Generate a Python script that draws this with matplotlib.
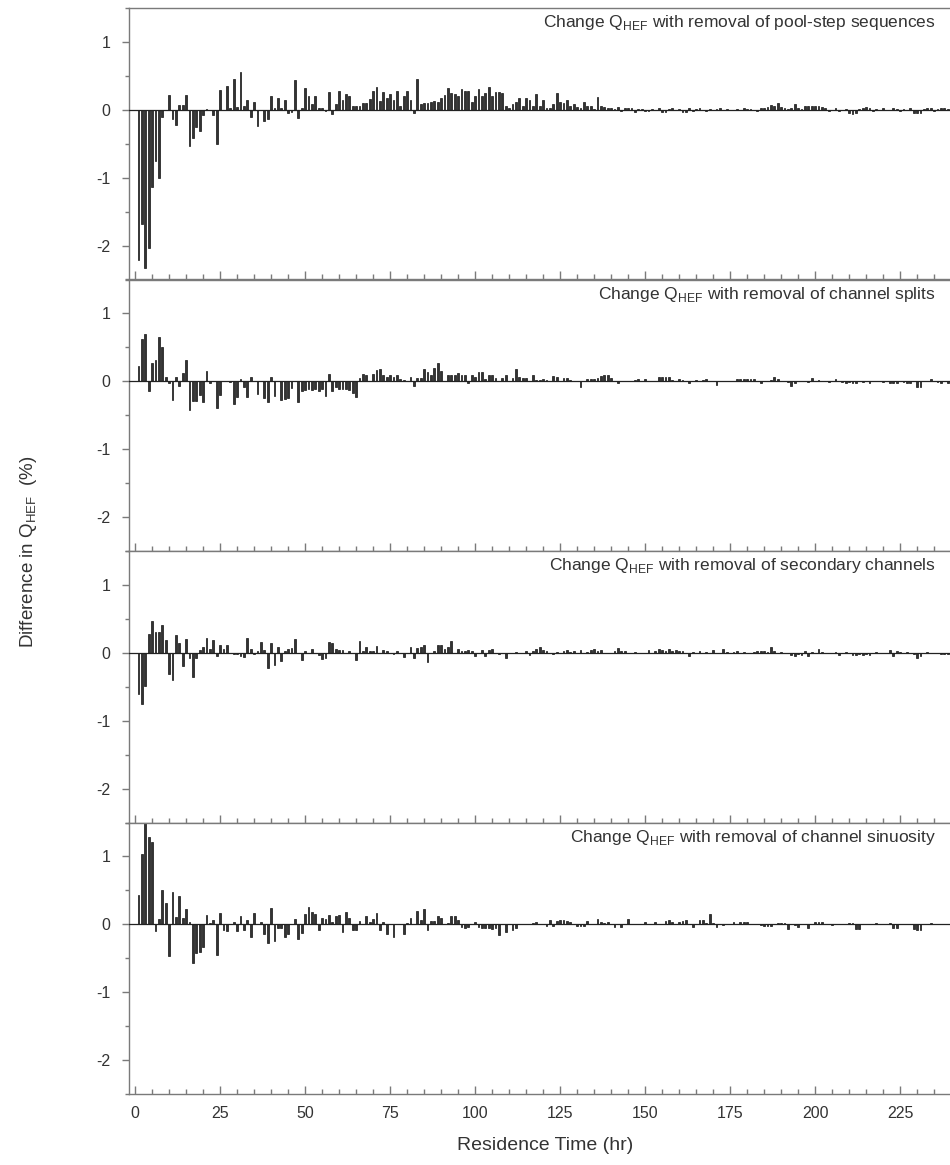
import matplotlib
matplotlib.use("Agg")
import matplotlib.pyplot as plt
from matplotlib.ticker import MultipleLocator

plt.rcParams["font.family"] = ["Liberation Sans", "DejaVu Sans"]
plt.rcParams["mathtext.fontset"] = "custom"
plt.rcParams["mathtext.rm"] = "Liberation Sans"
plt.rcParams["axes.unicode_minus"] = False

# residence time (hr) of each bar
hours = list(range(1, 241))

pool_step = [
    -2.21, -1.68, -2.33, -2.04, -1.14, -0.76, -1.00, -0.11, 0.00, 0.22,
    -0.14, -0.22, 0.07, 0.07, 0.22, -0.53, -0.42, -0.25, -0.31, -0.08,
    0.01, 0.00, -0.08, -0.50, 0.29, -0.01, 0.35, 0.03, 0.45, 0.04,
    0.55, 0.05, 0.15, -0.11, 0.11, -0.24, 0.00, -0.16, -0.13, 0.21,
    0.03, 0.18, 0.03, 0.15, -0.04, -0.03, 0.44, -0.12, 0.02, 0.32,
    0.20, 0.08, 0.20, 0.03, 0.02, -0.02, 0.26, -0.06, 0.08, 0.28,
    0.15, 0.23, 0.20, 0.06, 0.05, 0.06, 0.10, 0.10, 0.16, 0.28,
    0.33, 0.13, 0.26, 0.18, 0.23, 0.14, 0.28, 0.05, 0.20, 0.28,
    0.14, -0.04, 0.45, 0.08, 0.10, 0.10, 0.12, 0.13, 0.12, 0.18,
    0.22, 0.32, 0.25, 0.23, 0.20, 0.30, 0.28, 0.28, 0.12, 0.20,
    0.31, 0.20, 0.25, 0.33, 0.20, 0.26, 0.26, 0.25, 0.05, 0.02,
    0.08, 0.12, 0.18, 0.05, 0.18, 0.14, 0.06, 0.23, 0.05, 0.15,
    0.02, 0.03, 0.08, 0.25, 0.12, 0.10, 0.15, 0.06, 0.08, 0.04,
    0.02, 0.12, 0.05, 0.06, 0.01, 0.19, 0.06, 0.04, 0.03, 0.02,
    0.01, 0.04, -0.02, 0.03, 0.03, 0.02, -0.03, 0.01, 0.01, -0.02,
    -0.02, 0.01, -0.01, 0.02, -0.03, -0.03, 0.01, 0.02, -0.01, 0.01,
    -0.03, -0.03, 0.02, -0.02, 0.01, 0.03, 0.00, -0.02, 0.01, 0.00,
    0.01, 0.02, 0.00, 0.01, 0.00, 0.00, 0.01, -0.01, 0.02, 0.01,
    0.01, 0.00, -0.02, 0.02, 0.02, 0.04, 0.07, 0.05, 0.10, 0.04,
    0.02, 0.01, 0.03, 0.09, 0.02, 0.01, 0.05, 0.06, 0.06, 0.05,
    0.06, 0.04, 0.03, -0.02, -0.01, 0.02, -0.02, -0.01, 0.01, -0.04,
    -0.06, -0.04, 0.01, 0.02, 0.04, 0.02, -0.02, 0.01, 0.00, 0.02,
    0.00, -0.01, 0.02, 0.01, -0.02, 0.01, 0.00, 0.03, -0.05, -0.05,
    -0.04, 0.01, 0.02, 0.02, -0.02, 0.01, 0.02, 0.03, 0.01, 0.02,
]

channel_splits = [
    0.22, 0.63, 0.70, -0.15, 0.27, 0.32, 0.65, 0.50, 0.06, -0.02,
    -0.27, 0.07, -0.07, 0.12, 0.31, -0.43, -0.29, -0.29, -0.20, -0.30,
    0.15, -0.02, 0.00, -0.40, -0.20, 0.00, 0.00, -0.01, -0.33, -0.23,
    0.03, -0.09, -0.23, 0.06, 0.01, -0.18, 0.00, -0.25, -0.30, 0.07,
    -0.22, 0.00, -0.27, -0.26, -0.25, -0.10, 0.01, -0.30, -0.14, -0.13,
    -0.12, -0.13, -0.11, -0.14, -0.11, -0.22, 0.11, -0.14, -0.09, -0.11,
    -0.11, -0.12, -0.13, -0.17, -0.23, 0.05, 0.11, 0.09, 0.01, 0.11,
    0.17, 0.18, 0.09, 0.07, 0.10, 0.06, 0.10, 0.04, 0.02, 0.00,
    0.06, -0.07, 0.05, 0.05, 0.18, 0.14, 0.10, 0.19, 0.27, 0.15,
    0.01, 0.10, 0.10, 0.09, 0.12, 0.10, 0.09, -0.03, 0.10, 0.06,
    0.13, 0.13, 0.04, 0.09, 0.09, 0.05, 0.00, 0.05, 0.09, 0.00,
    0.05, 0.18, 0.06, 0.05, 0.05, 0.00, 0.09, 0.02, 0.02, 0.03,
    0.02, 0.01, 0.08, 0.06, 0.01, 0.05, 0.05, 0.02, 0.01, 0.00,
    -0.08, 0.01, 0.03, 0.04, 0.04, 0.05, 0.08, 0.10, 0.10, 0.05,
    0.00, -0.03, 0.00, 0.01, 0.01, 0.00, 0.02, 0.03, 0.01, 0.03,
    0.00, 0.01, 0.00, 0.07, 0.07, 0.07, 0.06, 0.02, 0.01, 0.04,
    0.02, 0.01, -0.02, 0.00, 0.02, 0.01, 0.02, 0.03, 0.01, 0.00,
    -0.06, 0.00, 0.01, 0.00, 0.00, 0.01, 0.04, 0.03, 0.04, 0.03,
    0.04, 0.03, 0.01, -0.02, 0.00, 0.01, 0.02, 0.07, 0.03, 0.01,
    0.00, -0.01, -0.07, -0.02, 0.00, 0.01, 0.00, -0.01, 0.05, 0.01,
    0.02, 0.00, 0.01, -0.01, 0.00, 0.04, 0.00, -0.01, -0.02, -0.01,
    -0.02, -0.02, 0.01, -0.01, 0.01, -0.02, 0.00, 0.01, 0.00, -0.01,
    0.01, -0.02, -0.03, -0.02, 0.00, -0.01, -0.02, -0.02, 0.01, -0.08,
    -0.08, 0.00, 0.00, 0.04, 0.01, -0.01, -0.02, 0.00, -0.02, 0.01,
]

secondary_channels = [
    -0.61, -0.75, -0.49, 0.28, 0.47, 0.31, 0.30, 0.41, 0.19, -0.31,
    -0.40, 0.26, 0.14, -0.20, 0.20, -0.07, -0.35, -0.08, 0.04, 0.09,
    0.22, 0.06, 0.19, -0.05, 0.12, 0.05, 0.11, 0.00, -0.02, -0.02,
    -0.05, -0.06, 0.22, 0.05, -0.02, 0.03, 0.16, 0.04, -0.22, 0.15,
    -0.18, 0.09, -0.12, 0.03, 0.06, 0.07, 0.21, 0.00, -0.10, 0.03,
    0.00, 0.06, 0.00, -0.03, -0.09, -0.07, 0.16, 0.15, 0.05, 0.04,
    0.04, 0.00, 0.03, 0.00, -0.11, 0.17, 0.03, 0.08, 0.02, 0.02,
    0.10, 0.00, 0.04, 0.02, 0.00, -0.02, 0.02, 0.00, -0.06, 0.00,
    0.09, -0.08, 0.07, 0.08, 0.11, -0.14, 0.00, 0.02, 0.11, 0.11,
    0.05, 0.09, 0.18, 0.00, 0.05, 0.03, 0.03, 0.04, 0.03, -0.05,
    0.00, 0.04, -0.04, 0.04, 0.05, 0.00, -0.02, 0.00, -0.08, 0.00,
    0.00, 0.01, 0.00, 0.00, 0.03, -0.03, 0.02, 0.05, 0.09, 0.04,
    0.03, 0.00, -0.02, 0.01, 0.00, 0.02, 0.04, 0.01, 0.02, -0.01,
    0.04, 0.00, 0.01, 0.04, 0.05, 0.03, 0.04, 0.00, -0.01, 0.00,
    0.02, 0.07, 0.02, 0.02, -0.01, 0.00, 0.01, 0.00, -0.01, 0.00,
    0.04, 0.00, 0.03, 0.05, 0.04, 0.03, 0.05, 0.02, 0.04, 0.02,
    0.03, 0.00, -0.04, 0.01, 0.00, 0.02, 0.00, 0.01, 0.00, 0.04,
    0.00, -0.01, 0.06, 0.01, 0.00, 0.01, 0.03, 0.00, 0.01, 0.00,
    0.00, 0.01, 0.02, 0.02, 0.02, 0.01, 0.08, 0.02, 0.00, 0.01,
    -0.01, 0.00, -0.03, -0.04, -0.02, -0.03, 0.02, -0.04, 0.01, 0.00,
    0.05, 0.01, 0.00, -0.01, 0.00, 0.01, -0.03, 0.00, 0.01, 0.00,
    -0.03, -0.03, -0.02, -0.03, -0.02, -0.03, 0.00, 0.01, 0.00, -0.01,
    0.00, 0.04, -0.04, 0.02, 0.01, 0.00, 0.01, 0.00, -0.02, -0.08,
    -0.04, 0.00, 0.01, -0.01, 0.00, -0.01, -0.02, -0.02, -0.02, -0.01,
]

sinuosity = [
    0.43, 1.04, 1.50, 1.29, 1.21, -0.10, 0.08, 0.51, 0.31, -0.47,
    0.48, 0.11, 0.41, 0.10, 0.23, 0.03, -0.57, -0.42, -0.41, -0.34,
    0.13, 0.02, 0.07, -0.45, 0.17, -0.08, -0.10, 0.00, 0.04, -0.10,
    0.12, -0.08, 0.06, -0.19, 0.16, 0.00, 0.03, -0.14, -0.27, 0.24,
    -0.24, -0.06, -0.05, -0.19, -0.15, 0.00, 0.08, -0.22, -0.13, 0.15,
    0.25, 0.18, 0.15, -0.09, 0.10, 0.08, 0.13, 0.03, 0.12, 0.13,
    -0.12, 0.18, 0.10, -0.09, -0.09, 0.05, 0.00, 0.12, 0.03, 0.08,
    0.17, -0.08, 0.03, -0.14, 0.00, -0.18, 0.00, 0.00, -0.15, 0.02,
    0.09, 0.00, 0.19, 0.07, 0.23, -0.09, 0.05, 0.05, 0.12, 0.10,
    0.00, 0.02, 0.12, 0.12, 0.07, -0.04, -0.05, -0.04, 0.00, 0.04,
    -0.04, -0.05, -0.06, -0.05, -0.07, -0.05, -0.16, 0.00, -0.11, 0.00,
    -0.09, -0.05, 0.00, 0.00, 0.01, 0.00, 0.02, 0.04, 0.00, 0.01,
    -0.02, 0.07, -0.03, 0.05, 0.07, 0.07, 0.05, 0.03, 0.00, -0.03,
    -0.03, -0.03, 0.05, 0.01, 0.00, 0.08, 0.03, 0.02, 0.04, 0.00,
    -0.04, 0.00, -0.04, 0.01, 0.08, 0.01, 0.00, 0.00, 0.00, 0.04,
    0.01, 0.00, 0.03, 0.00, 0.01, 0.05, 0.07, 0.03, 0.00, 0.04,
    0.05, 0.06, 0.00, -0.04, 0.00, 0.06, 0.06, 0.02, 0.15, 0.02,
    -0.04, 0.00, -0.01, 0.00, 0.01, 0.04, 0.00, 0.03, 0.03, 0.03,
    0.00, 0.00, 0.00, -0.01, -0.03, -0.03, -0.02, 0.00, 0.02, 0.02,
    0.02, -0.07, 0.00, -0.01, -0.04, 0.00, 0.00, -0.06, 0.00, 0.03,
    0.03, 0.03, 0.00, 0.00, -0.01, 0.00, 0.00, 0.00, 0.00, 0.02,
    0.02, -0.07, -0.07, 0.00, 0.01, 0.00, 0.00, 0.02, 0.00, 0.00,
    0.00, 0.02, -0.05, -0.05, 0.01, 0.00, 0.00, 0.00, -0.07, -0.08,
    -0.08, 0.00, 0.00, 0.02, 0.01, 0.00, 0.00, 0.00, 0.01, 0.00,
]

series = [pool_step, channel_splits, secondary_channels, sinuosity]
titles = [
    "Change Q$_\\mathregular{HEF}$ with removal of pool-step sequences",
    "Change Q$_\\mathregular{HEF}$ with removal of channel splits",
    "Change Q$_\\mathregular{HEF}$ with removal of secondary channels",
    "Change Q$_\\mathregular{HEF}$ with removal of channel sinuosity",
]

fig = plt.figure(figsize=(9.5, 11.65), dpi=100)
SPINE = "#7a7a7a"
TXT = "#333333"

# panel geometry in pixels (figure is 950 x 1165); axes run past the right edge
left_px, top_px, panel_px = 128.7, 8.0, 271.5
x0, x1 = -1.9, 244
width = (x1 - x0) * 3.4 / 950

for i, (vals, title) in enumerate(zip(series, titles)):
    top = top_px + i * panel_px
    ax = fig.add_axes([left_px / 950, 1 - (top + panel_px) / 1165, width, panel_px / 1165])
    ax.bar(hours, vals, width=0.55, color="#333333", edgecolor="#111111", linewidth=0.5, zorder=2)
    ax.axhline(0, color="#222222", lw=0.9, zorder=3)
    ax.set_xlim(x0, x1)
    ax.set_ylim(-2.5, 1.5)
    ax.set_yticks([-2, -1, 0, 1])
    ax.yaxis.set_minor_locator(MultipleLocator(0.5))
    ax.xaxis.set_major_locator(MultipleLocator(25))
    ax.xaxis.set_minor_locator(MultipleLocator(5))
    for s in ax.spines.values():
        s.set_color(SPINE)
        s.set_linewidth(1.0)
    ax.tick_params(axis="y", which="major", direction="out", length=5, width=1,
                   color=SPINE, labelsize=11.5, labelcolor=TXT, pad=8)
    ax.tick_params(axis="y", which="minor", direction="out", length=3, width=1, color=SPINE)
    ax.tick_params(axis="x", which="major", direction="in", length=6, width=1,
                   color=SPINE, labelsize=11.5, labelcolor=TXT, pad=9)
    ax.tick_params(axis="x", which="minor", direction="in", length=3.5, width=1, color=SPINE)
    if i < 3:
        ax.tick_params(axis="x", labelbottom=False)
    ax.text(235.5, 1.28, title, ha="right", va="center", fontsize=12.5, color=TXT)

fig.text(0.03, 0.526, "Difference in Q$_\\mathregular{HEF}$  (%)", rotation=90,
         ha="center", va="center", fontsize=13.5, color=TXT)
fig.text(0.574, 0.017, "Residence Time (hr)", ha="center", va="center", fontsize=14, color=TXT)

fig.savefig("out.png", dpi=100)
